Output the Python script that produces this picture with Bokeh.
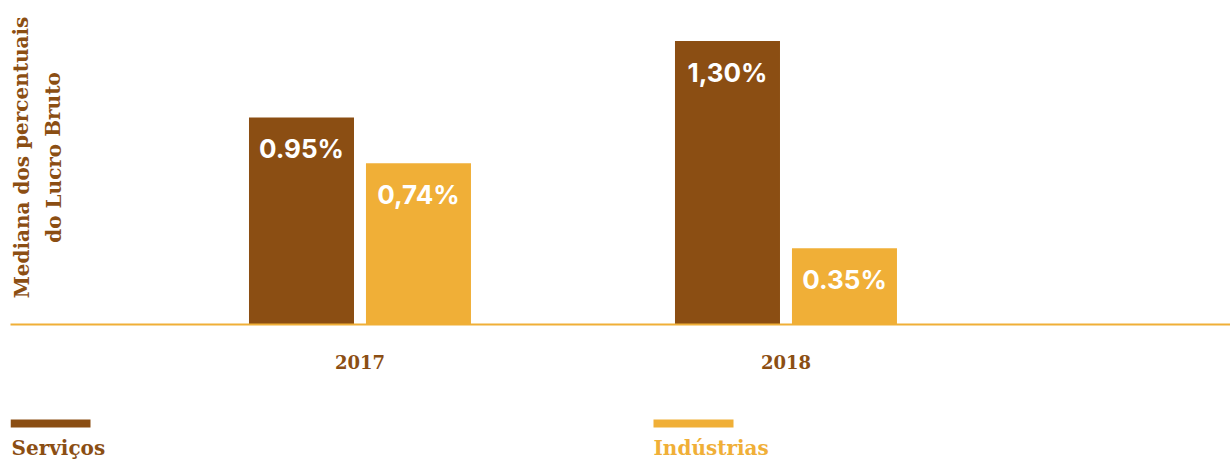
from bokeh.plotting import figure
from bokeh.models import ColumnDataSource, Range1d, FixedTicker, Label
from bokeh.transform import dodge
from bokeh.layouts import column
from bokeh.core.properties import value
from bokeh.embed import file_html
from bokeh.resources import INLINE

# ---- data ----
years = ["2017", "2018"]
series = ["Serviços", "Indústrias"]
servicos = [0.95, 1.30]
industrias = [0.74, 0.35]
labels_servicos = ["0.95%", "1,30%"]
labels_industrias = ["0,74%", "0.35%"]
y_title = ["Mediana dos percentuais", "do Lucro Bruto"]

BROWN = "#8B4E13"
ORANGE = "#F0AF37"
SERIF = "DejaVu Serif"

idx = list(range(len(years)))
src = ColumnDataSource(dict(x=idx, serv=servicos, ind=industrias,
                            lserv=labels_servicos, lind=labels_industrias))

W = 1230
p = figure(width=W, height=400, output_backend="svg", toolbar_location=None,
           x_range=Range1d(-0.8204, 2.0435), y_range=Range1d(0, 1.4862),
           min_border_left=10, min_border_right=0, min_border_top=0,
           min_border_bottom=76, y_axis_location=None)
p.outline_line_color = None
p.xgrid.visible = False
p.ygrid.visible = False
p.background_fill_color = "white"
p.border_fill_color = "white"

off = 0.1373
bw = 0.2465
p.vbar(x=dodge("x", -off), top="serv", width=bw, bottom=0, source=src,
       fill_color=BROWN, line_color=None)
p.vbar(x=dodge("x", off), top="ind", width=bw, bottom=0, source=src,
       fill_color=ORANGE, line_color=None)

txt_kw = dict(text_color="white", text_font=value("Inter"), text_font_style="bold",
              text_font_size="26px", text_align="center", text_baseline="middle",
              y_offset=31, source=src)
p.text(x=dodge("x", -off), y="serv", text="lserv", **txt_kw)
p.text(x=dodge("x", off), y="ind", text="lind", **txt_kw)

ax = p.xaxis[0]
ax.ticker = FixedTicker(ticks=idx)
ax.major_label_overrides = {i: y for i, y in zip(idx, years)}
ax.axis_line_color = ORANGE
ax.axis_line_width = 2
ax.major_tick_line_color = None
ax.minor_tick_line_color = None
ax.major_label_text_font = SERIF
ax.major_label_text_font_style = "bold"
ax.major_label_text_font_size = "18px"
ax.major_label_text_color = BROWN
ax.major_label_standoff = 24

for i, t in enumerate(y_title):
    p.add_layout(Label(x=11 + 32 * i, y=167, x_units="screen", y_units="screen",
                       text=t, angle=1.5708, text_align="center",
                       text_baseline="middle", text_font=SERIF,
                       text_font_style="bold", text_font_size="20px",
                       text_color=BROWN))

# ---- legend strip (frame aligned with the chart's frame, starting at x=10) ----
lg = figure(width=W, height=59, output_backend="svg", toolbar_location=None,
            x_range=Range1d(10, W), y_range=Range1d(59, 0),
            min_border=0, min_border_left=10, x_axis_location=None,
            y_axis_location=None)
lg.outline_line_color = None
lg.xgrid.visible = False
lg.ygrid.visible = False
lsrc = ColumnDataSource(dict(name=series, color=[BROWN, ORANGE],
                             x0=[10, 653], x1=[90, 733], y=[23, 23],
                             tx=[11, 653], ty=[47, 47]))
lg.segment(x0="x0", y0="y", x1="x1", y1="y", line_color="color",
           line_width=8, source=lsrc)
lg.text(x="tx", y="ty", text="name", text_color="color", text_font=value(SERIF),
        text_font_style="bold", text_font_size="20px", text_baseline="middle",
        source=lsrc)

layout = column(p, lg, spacing=0)
open("out.html", "w").write(file_html(layout, INLINE))
